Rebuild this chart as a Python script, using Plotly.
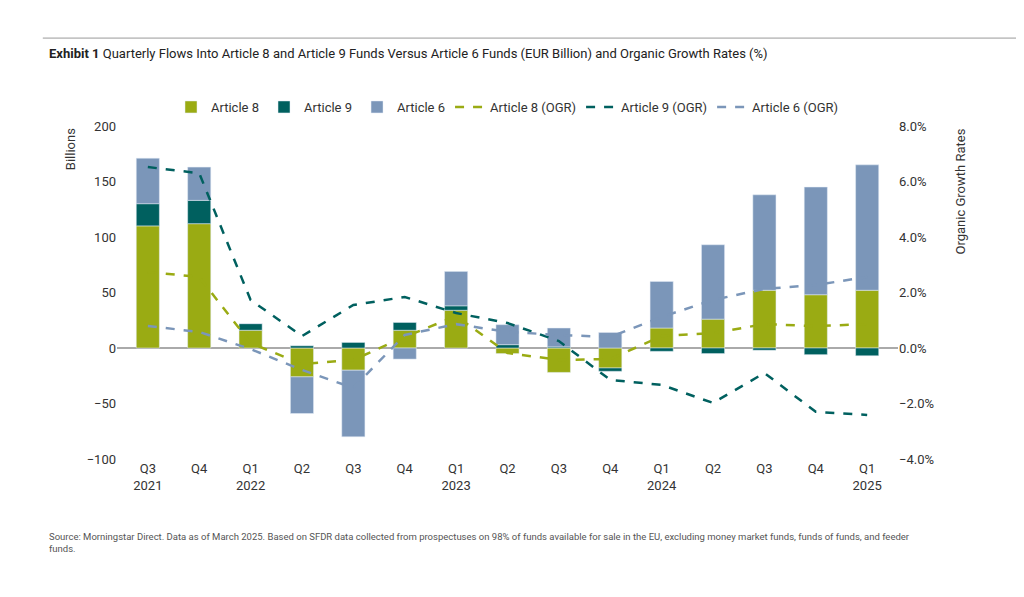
import plotly.graph_objects as go

quarters = ["Q3<br>2021", "Q4", "Q1<br>2022", "Q2", "Q3", "Q4", "Q1<br>2023", "Q2", "Q3", "Q4",
            "Q1<br>2024", "Q2", "Q3", "Q4", "Q1<br>2025"]
art8 = [110, 112, 16, -26, -20, 16, 34, -5, -22, -18, 18, 26, 52, 48, 52]
art9 = [20, 21, 6, 2, 5, 7, 4, 3, 1, -3, -3, -5, -2, -6, -7]
art6 = [41, 30, 0, -33, -60, -10, 31, 18, 17, 14, 42, 67, 86, 97, 113]
ogr8 = [2.74, 2.56, 0.18, -0.58, -0.43, 0.40, 1.15, -0.18, -0.43, -0.40, 0.43, 0.54, 0.86, 0.79, 0.86]
ogr9 = [6.52, 6.30, 1.73, 0.43, 1.55, 1.84, 1.26, 0.90, 0.25, -1.15, -1.33, -1.98, -0.90, -2.30, -2.41]
ogr6 = [0.79, 0.58, -0.04, -0.79, -1.44, 0.47, 0.86, 0.58, 0.47, 0.40, 1.12, 1.73, 2.13, 2.27, 2.56]

c8, c9, c6 = "#9aab13", "#00605f", "#7b96b9"
x = list(range(len(quarters)))

fig = go.Figure()
fig.add_trace(go.Bar(x=x, y=art8, name="Article 8", marker_color=c8, width=0.45))
fig.add_trace(go.Bar(x=x, y=art9, name="Article 9", marker_color=c9, width=0.45))
fig.add_trace(go.Bar(x=x, y=art6, name="Article 6", marker_color=c6, width=0.45))
for name, vals, col in [("Article 8 (OGR)", ogr8, c8), ("Article 9 (OGR)", ogr9, c9),
                        ("Article 6 (OGR)", ogr6, c6)]:
    fig.add_trace(go.Scatter(x=x, y=vals, name=name, yaxis="y2", mode="lines",
                             line=dict(color=col, width=2.5, dash="dash")))

fig.update_layout(
    width=1024, height=597, barmode="relative", paper_bgcolor="white", plot_bgcolor="white",
    font=dict(family="Roboto, Arial", size=13, color="#333"),
    margin=dict(l=109, r=134, t=118, b=146),
    showlegend=True,
    legend=dict(orientation="h", x=0.5, xanchor="center", y=1.057, yanchor="middle",
                font=dict(size=13), traceorder="normal"),
    xaxis=dict(tickmode="array", tickvals=x, ticktext=quarters, showgrid=False,
               range=[-0.6, 14.6]),
    yaxis=dict(range=[-100, 200], dtick=50, showgrid=False, zeroline=True,
               zerolinecolor="#aaa"),
    yaxis2=dict(range=[-4, 8], dtick=2, overlaying="y", side="right", tickformat=".1f",
                ticksuffix="%", showgrid=False, zeroline=False),
    annotations=[
        dict(text="<b>Exhibit 1</b> Quarterly Flows Into Article 8 and Article 9 Funds Versus "
                  "Article 6 Funds (EUR Billion) and Organic Growth Rates (%)",
             xref="paper", yref="paper", x=-0.09, y=1.219, xanchor="left", yanchor="middle",
             showarrow=False, font=dict(size=13, color="#222")),
        dict(text="Billions", textangle=-90, xref="paper", yref="paper", x=-0.06, y=1.0,
             xanchor="center", yanchor="top", showarrow=False, font=dict(size=13)),
        dict(text="Organic Growth Rates", textangle=-90, xref="paper", yref="paper", x=1.08,
             y=1.0, xanchor="center", yanchor="top", showarrow=False, font=dict(size=13)),
        dict(text="Source: Morningstar Direct. Data as of March 2025. Based on SFDR data collected "
                  "from prospectuses on 98% of funds available for sale in the EU, excluding money "
                  "market funds, funds of funds, and feeder<br>funds.",
             xref="paper", yref="paper", x=-0.09, y=-0.21, xanchor="left", yanchor="top",
             align="left", showarrow=False, font=dict(size=9.5, color="#555")),
    ],
    shapes=[dict(type="line", xref="paper", yref="paper", x0=-0.095, x1=1.17, y0=1.264,
                 y1=1.264, line=dict(color="#999", width=1))],
)
fig.write_html("out.html")
